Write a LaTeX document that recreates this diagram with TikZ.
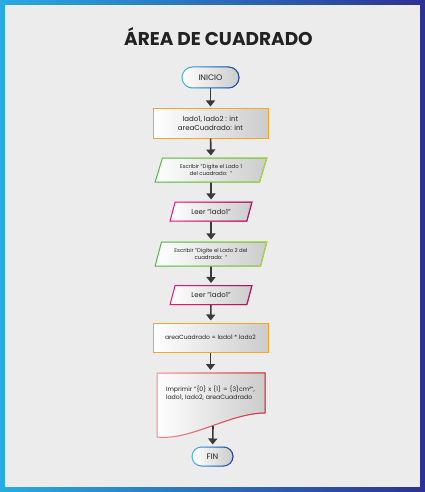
\documentclass[tikz,border=0pt]{standalone}
\usepackage{fontspec}
\setmainfont{Poppins}
\usetikzlibrary{shapes.geometric,shapes.misc,arrows.meta,fadings}

\definecolor{frameL}{HTML}{29ABE2}
\definecolor{frameR}{HTML}{2E3192}
\definecolor{paper}{HTML}{ECECEC}
\definecolor{termL}{HTML}{4DB3EA}
\definecolor{termR}{HTML}{2E3F9A}
\definecolor{procO}{HTML}{F5A623}
\definecolor{ioL}{HTML}{4DB848}
\definecolor{ioR}{HTML}{B8D63A}
\definecolor{readL}{HTML}{E8197D}
\definecolor{readR}{HTML}{A3195B}
\definecolor{docL}{HTML}{F08A8C}
\definecolor{docR}{HTML}{C8323A}
\definecolor{ink}{HTML}{222222}
\definecolor{flow}{HTML}{3A3A3A}

\tikzset{
  box/.style={left color=white, right color=gray!40, text=ink, line width=1pt, inner sep=0pt, align=center},
  terminal/.style={box, rounded rectangle, draw=termL, minimum width=57pt, minimum height=21pt,
    font=\fontsize{8}{9}\selectfont, postaction={draw=termR, line width=1pt, path fading=west}},
  process/.style={box, rectangle, draw=procO, minimum width=115pt, minimum height=29pt},
  io/.style={box, trapezium, trapezium left angle=67, trapezium right angle=113, trapezium stretches=true,
    draw=ioL, minimum width=112pt, minimum height=24pt, font=\fontsize{5.4}{6.8}\selectfont,
    postaction={draw=ioR, line width=1pt, path fading=west}},
  leer/.style={box, trapezium, trapezium left angle=62, trapezium right angle=118, trapezium stretches=true,
    draw=readL, minimum width=82pt, minimum height=19pt, font=\fontsize{7}{8}\selectfont,
    postaction={draw=readR, line width=1pt, path fading=west}},
  flecha/.style={-{Triangle[width=9pt,length=6pt]}, line width=1.6pt, draw=flow, shorten >=2pt}
}

\begin{document}
\begin{tikzpicture}[x=1pt,y=-1pt]
  % marco
  \useasboundingbox (0,0) rectangle (425,492);
  \shade[left color=frameL, right color=frameR] (0,0) rectangle (425,492);
  \fill[paper] (5,5) rectangle (420,487);

  \node[anchor=base, text=ink, font=\fontsize{18.5}{22}\selectfont\bfseries] (titulo) at (218.5,46) {ÁREA DE CUADRADO};

  \node[terminal] (inicio) at (210.5,77.5) {INICIO};
  \node[process, font=\fontsize{7}{9.5}\selectfont] (decl) at (210.5,123.5) {lado1, lado2 : int\\areaCuadrado: int};
  \node[io] (esc1) at (211,170) {Escribir "Digite el Lado 1\\del cuadrado:~~"};
  \node[leer] (leer1) at (211,211.5) {Leer "lado1"};
  \node[io] (esc2) at (211,254) {Escribir "Digite el Lado 2 del\\cuadrado:~~"};
  \node[leer] (leer2) at (211,295) {Leer "lado1"};
  \node[process, font=\fontsize{6}{7}\selectfont] (calc) at (210.5,337.5) {areaCuadrado = lado1 * lado2};

  % documento
  \draw[docL, line width=1pt, left color=white, right color=gray!40,
    postaction={draw=docR, line width=1pt, path fading=west}]
    (265,413) -- (265,373) -- (157,373) -- (157,437)
    .. controls (190,441) and (230,413) .. (265,413);
  \node[text=ink, text width=98pt, align=left, font=\fontsize{6.2}{8}\selectfont] (impr) at (215,393)
    {Imprimir "\{0\} x \{1\} = \{3\}cm²",\\lado1, lado2, areaCuadrado};
  \coordinate (techo) at (210.5,372);
  \coordinate (onda) at (213,426);

  \node[terminal, minimum width=41pt, minimum height=19pt] (fin) at (212.5,456.5) {FIN};

  \begin{scope}[flecha]
    \draw (inicio) -- (decl);
    \draw (decl) -- (esc1);
    \draw (esc1) -- (leer1);
    \draw (leer1) -- (esc2);
    \draw (esc2) -- (leer2);
    \draw (leer2) -- (calc);
    \draw (calc) -- (techo);
    \draw (onda) -- (fin);
  \end{scope}
\end{tikzpicture}
\end{document}
